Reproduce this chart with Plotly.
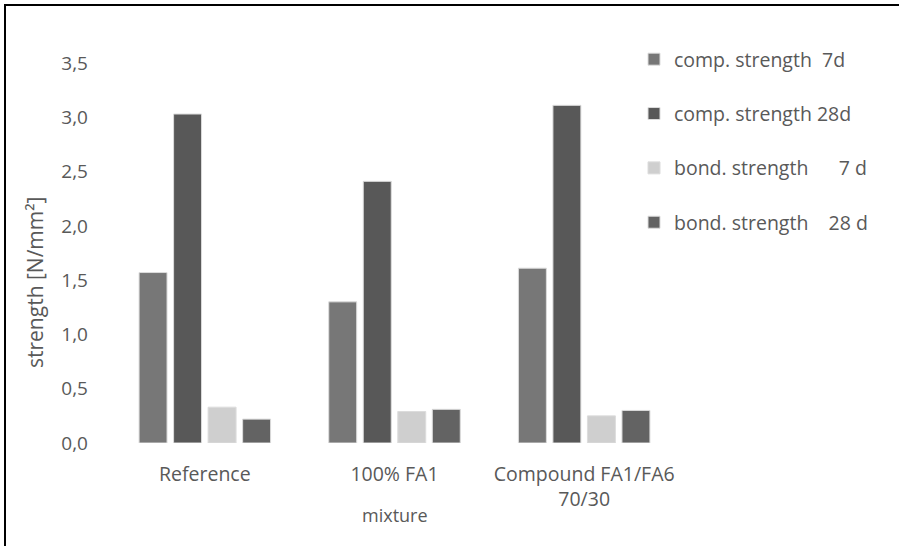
import plotly.graph_objects as go

# Mixtures and measured strengths in N/mm²
mixtures = ["Reference", "100% FA1", "Compound FA1/FA6<br>70/30"]
comp_7d = [1.57, 1.30, 1.61]
comp_28d = [3.03, 2.41, 3.11]
bond_7d = [0.33, 0.29, 0.25]
bond_28d = [0.22, 0.31, 0.30]

series_names = [
    "comp. strength\u00a0\u00a07d",
    "comp. strength 28d",
    "bond. strength\u00a0\u00a0\u00a0\u00a0\u00a0\u00a07 d",
    "bond. strength\u00a0\u00a0\u00a0\u00a028 d",
]
series_values = [comp_7d, comp_28d, bond_7d, bond_28d]
series_colors = ["#777777", "#585858", "#cfcfcf", "#636363"]

y_ticks = [0, 0.5, 1.0, 1.5, 2.0, 2.5, 3.0, 3.5]
y_tick_text = ["0,0", "0,5", "1,0", "1,5", "2,0", "2,5", "3,0", "3,5"]

W, H = 899, 546
ML, MR, MT, MB = 110, 220, 63, 103
PW, PH = W - ML - MR, H - MT - MB

FONT = "Open Sans"
GREY = "#595959"

fig = go.Figure()
for i, (name, vals, col) in enumerate(zip(series_names, series_values, series_colors)):
    fig.add_trace(go.Bar(
        x=mixtures, y=vals, name=name,
        marker=dict(color=col, line=dict(color="#dcdcdc", width=1)),
        legendgroup=f"g{i}",
    ))


def px_to_paper_x(px):
    return (px - ML) / PW


def px_to_paper_y(py):
    return (H - MB - py) / PH


# Frame: one open path running up the left edge and along the top edge
frame_path = "M {x0},{yb} L {x0},{yt} L {x1},{yt}".format(
    x0=px_to_paper_x(5), x1=px_to_paper_x(W + 5),
    yt=px_to_paper_y(5), yb=px_to_paper_y(H + 5),
)
fig.add_shape(type="path", xref="paper", yref="paper", path=frame_path,
              line=dict(color="black", width=2), fillcolor="rgba(0,0,0,0)")

# Axis titles
fig.add_annotation(text="strength [N/mm²]", xref="paper", yref="paper",
                   x=px_to_paper_x(35), y=px_to_paper_y(283),
                   xanchor="center", yanchor="middle", textangle=-90,
                   showarrow=False, font=dict(family=FONT, size=21, color=GREY))
fig.add_annotation(text="mixture", xref="paper", yref="paper",
                   x=px_to_paper_x(395), y=px_to_paper_y(515),
                   xanchor="center", yanchor="middle",
                   showarrow=False, font=dict(family=FONT, size=18, color=GREY))

fig.update_layout(
    width=W, height=H,
    margin=dict(l=ML, r=MR, t=MT, b=MB),
    paper_bgcolor="white", plot_bgcolor="white",
    barmode="group", bargap=0.272, bargroupgap=0.19,
    font=dict(family=FONT, color=GREY, size=17),
    showlegend=True,
    legend=dict(
        x=px_to_paper_x(634), y=px_to_paper_y(40),
        xanchor="left", yanchor="top",
        font=dict(family=FONT, size=19.5, color=GREY),
        tracegroupgap=26, itemwidth=30,
        bgcolor="rgba(0,0,0,0)",
    ),
    xaxis=dict(
        showline=False, showgrid=False, zeroline=False,
        ticks="", tickfont=dict(size=19.5, color=GREY),
        ticklabelstandoff=17,
    ),
    yaxis=dict(
        range=[0, 3.5], tickvals=y_ticks, ticktext=y_tick_text,
        showline=False, showgrid=False, zeroline=False,
        ticks="", tickfont=dict(size=19, color=GREY),
        ticklabelstandoff=21,
    ),
)

fig.write_html("out.html")
